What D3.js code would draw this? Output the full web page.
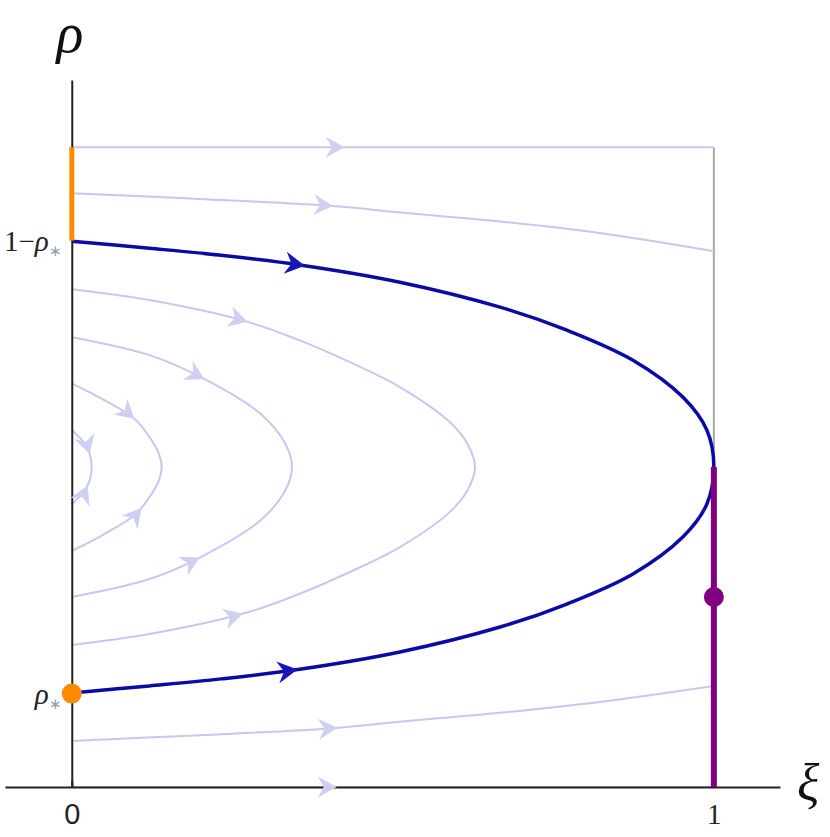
<!DOCTYPE html>
<html>
<head>
<meta charset="utf-8">
<script src="https://cdn.jsdelivr.net/npm/d3@7/dist/d3.min.js"></script>
<style>
  html, body { margin: 0; padding: 0; background: #fff; }
  svg { display: block; }
</style>
</head>
<body>
<div id="chart"></div>
<script>
// ---------------- data ----------------
const xiTicks = [0, 1];
const xiTickLabels = ["0", "1"];
const rhoStar = 0.146;
const rhoTicks = [rhoStar, 1 - rhoStar];
const rhoTickLabels = [["", "ρ"], ["1−", "ρ"]];

// separatrix (dark blue): two branches, each from ξ=0 to the apex
const blueUpper = [[0,0.853],[0.121,0.842],[0.233,0.831],[0.355,0.816],[0.511,0.789],[0.667,0.750],[0.771,0.714],[0.874,0.667],[0.952,0.609],[0.989,0.558],[1,0.5]];
const blueLower = [[0,0.147],[0.121,0.158],[0.233,0.169],[0.355,0.184],[0.511,0.211],[0.667,0.250],[0.771,0.286],[0.874,0.333],[0.952,0.391],[0.989,0.442],[1,0.5]];

// light streamlines
const streamTop    = [[0,1],[1,1]];
const streamTop2   = [[0,0.928],[0.199,0.919],[0.407,0.908],[0.511,0.898],[0.667,0.884],[0.822,0.866],[1,0.8375]];
const streamAUpper = [[0,0.778],[0.121,0.761],[0.274,0.727],[0.355,0.698],[0.433,0.664],[0.511,0.625],[0.589,0.570],[0.617,0.535],[0.628,0.5]];
const streamALower = [[0,0.222],[0.121,0.239],[0.274,0.273],[0.355,0.302],[0.433,0.336],[0.511,0.375],[0.589,0.430],[0.617,0.465],[0.628,0.5]];
const streamBUpper = [[0,0.703],[0.121,0.675],[0.204,0.639],[0.293,0.584],[0.332,0.5375],[0.343,0.5]];
const streamBLower = [[0,0.297],[0.121,0.325],[0.204,0.361],[0.293,0.416],[0.332,0.4625],[0.343,0.5]];
const streamCUpper = [[0,0.631],[0.05,0.605],[0.098,0.575],[0.121,0.547],[0.136,0.52],[0.14,0.5]];
const streamCLower = [[0,0.369],[0.05,0.395],[0.098,0.425],[0.121,0.453],[0.136,0.48],[0.14,0.5]];
const streamDUpper = [[0,0.558],[0.02,0.537],[0.028,0.52],[0.031,0.5]];
const streamDLower = [[0,0.442],[0.02,0.463],[0.028,0.48],[0.031,0.5]];
const streamBottom2 = [[0,0.072],[0.199,0.081],[0.407,0.092],[0.511,0.102],[0.667,0.116],[0.822,0.133],[1,0.158]];
const streamBottom = [[0,0],[1,0]];

// open streamlines and closed (upper+lower) streamlines
const lightOpen   = [streamTop, streamTop2, streamBottom2, streamBottom];
const lightOpenArrowXi = [0.425, 0.407, 0.414, 0.413];
const lightLoops  = [[streamAUpper, streamALower], [streamBUpper, streamBLower], [streamCUpper, streamCLower], [streamDUpper, streamDLower]];
const lightLoopArrowXi = [[0.274, 0.266], [0.207, 0.199], [0.098, 0.109], [0.028, 0.025]];
const blueLoop = [blueUpper, blueLower];
const blueArrowXi = [0.363, 0.352];

// boundary segments
const rightEdge = [[1,1],[1,0.5]];
const orangeSeg = [[0,1],[0,1 - rhoStar]];
const purpleSeg = [[1,0.5],[1,0]];
const orangeDot = [0, rhoStar];
const purpleDot = [1, 0.297];

// ---------------- chart ----------------
const W = 830, H = 837;
const svg = d3.select("#chart").append("svg").attr("width", W).attr("height", H);

const x = d3.scaleLinear().domain([-0.104, 1.103]).range([5, 780]);
const y = d3.scaleLinear().domain([0, 1.105]).range([787, 80]);

const line = d3.line().x(d => x(d[0])).y(d => y(d[1])).curve(d3.curveCatmullRom.alpha(0.5));
const straight = d3.line().x(d => x(d[0])).y(d => y(d[1]));

const lightColor = "#c6c8ee";
const lightArrowColor = "#cfd0f0";
const blueColor = "#0a0aa6";
const blueArrowColor = "#1717b8";

const arrowShape = "M0,0 L-19,-10.5 L-13,0 L-19,10.5 Z";

// right edge (gray)
svg.append("path").attr("d", straight(rightEdge)).attr("fill", "none").attr("stroke", "#a8a8a8").attr("stroke-width", 2);

const lightLayer = svg.append("g");
const axisLayer = svg.append("g");
const blueLayer = svg.append("g");
const arrowLayer = svg.append("g");

// place an arrowhead on a branch (branch runs from ξ=0 to its end)
function addArrow(branch, xi, color, scale) {
  const tmp = svg.append("path").attr("d", line(branch)).attr("fill", "none").attr("stroke", "none");
  const node = tmp.node();
  const L = node.getTotalLength();
  const tx = x(xi);
  let best = 0, bd = Infinity;
  for (let l = 0; l <= L; l += 0.5) {
    const pt = node.getPointAtLength(l);
    const d = Math.abs(pt.x - tx);
    if (d < bd) { bd = d; best = l; }
  }
  const p0 = node.getPointAtLength(Math.max(0, best - 1.5));
  const p1 = node.getPointAtLength(Math.min(L, best + 1.5));
  const tip = node.getPointAtLength(best);
  const ang = Math.atan2(p1.y - p0.y, p1.x - p0.x) * 180 / Math.PI;
  tmp.remove();
  arrowLayer.append("path").attr("d", arrowShape).attr("fill", color)
    .attr("transform", `translate(${tip.x},${tip.y}) rotate(${ang}) scale(${scale})`);
}

// light streamlines
lightOpen.forEach(b => {
  lightLayer.append("path").attr("d", line(b)).attr("fill", "none").attr("stroke", lightColor).attr("stroke-width", 2);
});
lightLoops.forEach(([up, lo]) => {
  const full = up.concat(lo.slice(0, -1).reverse());
  lightLayer.append("path").attr("d", line(full)).attr("fill", "none").attr("stroke", lightColor).attr("stroke-width", 2);
});

// axes
const xAxis = d3.axisBottom(x).tickValues(xiTicks)
  .tickFormat((d, i) => xiTickLabels[i]).tickSizeInner(-6).tickSizeOuter(0).tickPadding(16);
const gx = axisLayer.append("g").attr("transform", `translate(0,${y(0)})`).call(xAxis);
gx.select(".domain").attr("stroke", "#222").attr("stroke-width", 2);
gx.selectAll(".tick line").attr("stroke", "#222").attr("stroke-width", 2);
gx.selectAll(".tick text").attr("fill", "#222").attr("font-size", 29)
  .attr("font-family", (d, i) => i === 0 ? "Liberation Sans, Arial, sans-serif" : "Liberation Serif, Times New Roman, serif");

const yAxis = d3.axisLeft(y).tickValues(rhoTicks).tickFormat("").tickSize(0).tickSizeOuter(0);
const gy = axisLayer.append("g").attr("transform", `translate(${x(0)},0)`).call(yAxis);
gy.select(".domain").attr("stroke", "#222").attr("stroke-width", 2);
gy.selectAll(".tick").each(function(d, i) {
  const t = d3.select(this).append("text")
    .attr("x", -10).attr("dy", "0.35em").attr("text-anchor", "end")
    .attr("font-family", "Liberation Serif, Times New Roman, serif")
    .attr("font-size", 29).attr("fill", "#222");
  t.append("tspan").text(rhoTickLabels[i][0]);
  t.append("tspan").attr("font-style", "italic").text(rhoTickLabels[i][1]);
  t.append("tspan").attr("font-size", 15).attr("dy", "0.35em").attr("fill", "#8aa0b0").text("∗");
});

// blue separatrix
{
  const full = blueLoop[0].concat(blueLoop[1].slice(0, -1).reverse());
  blueLayer.append("path").attr("d", line(full)).attr("fill", "none").attr("stroke", blueColor).attr("stroke-width", 3.5);
}

// arrows
lightOpen.forEach((b, i) => addArrow(b, lightOpenArrowXi[i], lightArrowColor, 1));
lightLoops.forEach((pair, i) => pair.forEach((b, j) => addArrow(b, lightLoopArrowXi[i][j], lightArrowColor, 1)));
blueLoop.forEach((b, i) => addArrow(b, blueArrowXi[i], blueArrowColor, 1.05));

// orange and purple segments
svg.append("path").attr("d", straight(orangeSeg)).attr("stroke", "#ff8a00").attr("stroke-width", 5).attr("fill", "none");
svg.append("path").attr("d", straight(purpleSeg)).attr("stroke", "#800080").attr("stroke-width", 6).attr("fill", "none");
svg.append("circle").attr("cx", x(orangeDot[0])).attr("cy", y(orangeDot[1])).attr("r", 10).attr("fill", "#ff8a00");
svg.append("circle").attr("cx", x(purpleDot[0])).attr("cy", y(purpleDot[1])).attr("r", 10).attr("fill", "#800080");

// axis titles
svg.append("text").attr("x", 70).attr("y", 52).attr("text-anchor", "middle")
  .attr("font-family", "Liberation Serif, Times New Roman, serif").attr("font-style", "italic")
  .attr("font-size", 56).attr("fill", "#111").text("ρ");
svg.append("text").attr("x", 797).attr("y", 800).attr("text-anchor", "start")
  .attr("font-family", "Liberation Serif, Times New Roman, serif").attr("font-style", "italic")
  .attr("font-size", 52).attr("fill", "#111").text("ξ");
</script>
</body>
</html>
